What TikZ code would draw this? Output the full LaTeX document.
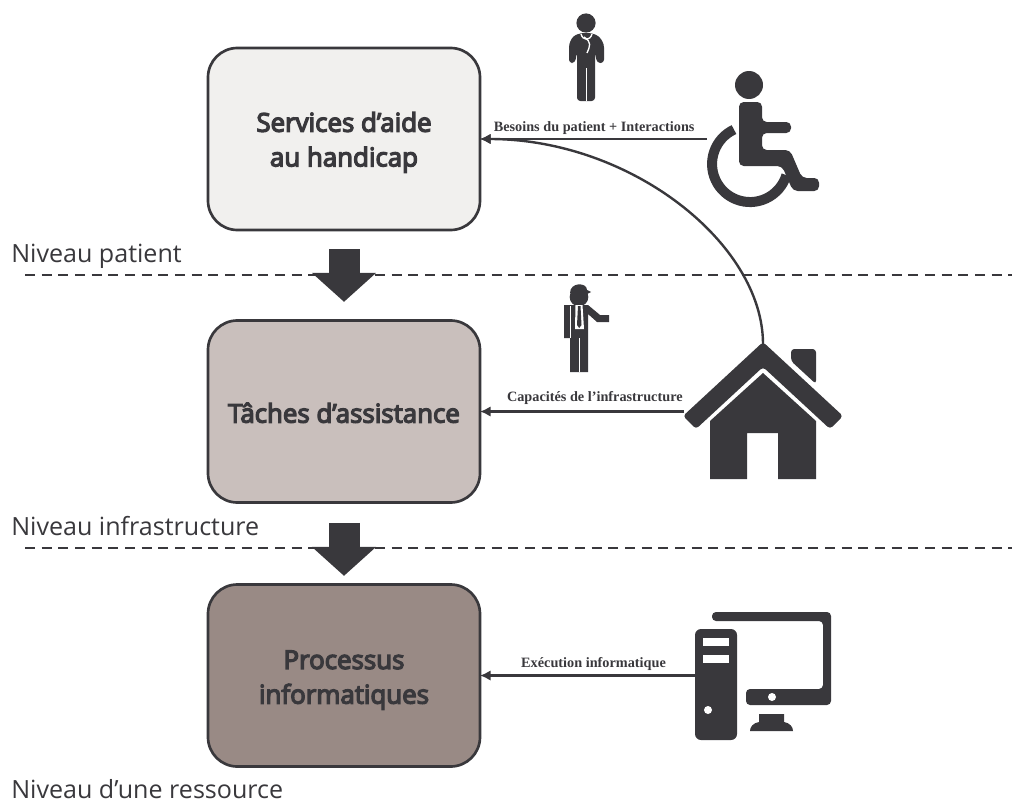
\documentclass[tikz,border=0pt]{standalone}
\usepackage{fontspec}
\setmainfont{Open Sans}
\newfontfamily\boxfont[FakeBold=5]{Open Sans}
\newfontfamily\captionfont{Liberation Serif}
\usetikzlibrary{arrows.meta}

\definecolor{icon}{HTML}{39383C}
\definecolor{patientcol}{HTML}{F1F0EE}
\definecolor{infracol}{HTML}{C9BFBC}
\definecolor{resourcecol}{HTML}{998A85}

\tikzset{
  levelbox/.style={draw=icon,line width=2pt,rounded corners=22pt,minimum width=204pt,minimum height=136.5pt},
  boxtext/.style={align=center,text=icon,font=\boxfont\fontsize{19.4}{26}\selectfont,inner sep=0pt},
  leveltext/.style={anchor=base west,inner sep=0pt,text=icon,font=\fontsize{18.8}{22}\selectfont},
  flowtext/.style={above,inner sep=3pt,text=icon,font=\captionfont\fontsize{10.7}{12}\selectfont\bfseries},
  flow/.style={draw=icon,line width=2pt,shorten >=-1pt,-{Latex[length=8pt,width=8pt]}},
  levelline/.style={draw=icon,line width=2.1pt,dash pattern=on 7.5pt off 5pt},
  levelarrow/.style={draw=icon,line width=23.25pt,-{Triangle[width=47pt,length=21.75pt]}}
}

\begin{document}
\begin{tikzpicture}[x=0.75pt,y=-0.75pt]
        \useasboundingbox (0,0) rectangle (1014,803);

        \node [levelbox,fill=patientcol] (services) at (344,139) {};
        \node [levelbox,fill=infracol] (taches) at (344,411.5) {};
        \node [levelbox,fill=resourcecol] (processus) at (344,675.5) {};

        \node [boxtext] (servicestext) at ([yshift=-2.5pt]services.center) {Services d’aide\\au handicap};
        \node [boxtext] (tachestext) at ([yshift=-1pt]taches.center) {Tâches d’assistance};
        \node [boxtext] (processustext) at ([yshift=-3.5pt]processus.center) {Processus\\informatiques};

        \node [leveltext] (patient) at (11,262) {Niveau patient};
        \node [leveltext] (infra) at (11,535) {Niveau infrastructure};
        \node [leveltext] (ressource) at (11,798.5) {Niveau d’une ressource};

        \coordinate (lineA) at (25,275);
        \coordinate (lineB) at (1012,275);
        \coordinate (lineC) at (25,548);
        \coordinate (lineD) at (1012,548);
        \draw [levelline] (lineA) -- (lineB);
        \draw [levelline] (lineC) -- (lineD);

        \draw [levelarrow,shorten <=13.5pt,shorten >=13pt] (services.south) -- (taches.north);
        \draw [levelarrow,shorten <=14.25pt,shorten >=5.5pt] (taches.south) -- (processus.north);

        % doctor
        \fill [icon] (586,23) circle [radius=7.2pt];
        \fill [icon,rounded corners=2.5pt] (569,63) -- (569,44) -- (573,36) -- (581,33) -- (591,33) -- (599,36) -- (604,44)
          -- (604,63) -- (597,63) -- (595,52) -- (595,101) -- (577,101) -- (577,52) -- (575,63) -- cycle;
        \draw [white,line width=.6pt] (586,68) -- (586,101);
        \draw [white,line width=1pt] (581,34) .. controls (583,41) and (590,41) .. (592,34);
        \draw [white,line width=1pt] (584,37) .. controls (592,42) and (590,46) .. (587,53);

        % worker
        \fill [icon] (579,297) circle [radius=7pt];
        \fill [icon] (570,293) .. controls (570,282) and (587,282) .. (587,290) -- (591,292) -- (587,294) -- cycle;
        \fill [icon] (564,305) -- (588,305) -- (600,315) -- (609,315) -- (609,322) -- (597,322) -- (588,314)
          -- (588,372) -- (570,372) -- (570,338) -- (564,338) -- cycle;
        \draw [white,line width=.6pt] (579,338) -- (579,372);
        \draw [white,line width=.5pt] (570,306) -- (570,338);
        \fill [white] (575.5,305) -- (582.5,305) -- (584,329) -- (575,329) -- cycle;
        \fill [icon] (578,306) -- (580.5,306) -- (581.5,325) -- (579.2,328) -- (577,325) -- cycle;

        % wheelchair
        \fill [icon] (749,85) circle [radius=10.5pt];
        \fill [icon,rounded corners=3.5pt] (739,102) -- (762,102) -- (762,122) -- (791,122) -- (791,133) -- (762,133) -- (762,150)
          -- (790,150) -- (802,178) -- (819,178) -- (819,191) -- (793,191) -- (782,166) -- (739,166) -- cycle;
        \draw [icon,line width=7.5pt] (734,129.6) arc [start angle=115,end angle=343,radius=28.5pt];

        % house
        \fill [icon,rounded corners=2.5pt] (763,342) -- (843,416) -- (830,429) -- (763,367) -- (696,429) -- (683,416) -- cycle;
        \fill [icon,rounded corners=2.5pt] (791,361) -- (791,349) -- (816,349) -- (816,384) -- cycle;
        \fill [icon] (763,373) -- (816,421) -- (816,479) -- (778,479) -- (778,433) -- (747,433) -- (747,479) -- (710,479) -- (710,421) -- cycle;

        % computer
        \fill [icon,rounded corners=3pt] (712,621) -- (712,612) -- (831,612) -- (831,705) -- (746,705) -- (746,689) -- (823,689) -- (823,621) -- cycle;
        \fill [white] (772,697) circle [radius=3pt];
        \fill [icon] (759,714) -- (784,714) -- (784,722) .. controls (790,723) and (793,727) .. (793,731) -- (750,731) .. controls (750,727) and (753,723) .. (759,722) -- cycle;
        \fill [icon,rounded corners=4.5pt] (695,629) rectangle (737,740);
        \fill [white] (703,638) rectangle (729,646);
        \fill [white] (703,655) rectangle (729,663);
        \fill [white] (708,710) circle [radius=3pt];

        \coordinate (wheelchair) at (707,139);
        \coordinate (house) at (684,411.5);
        \coordinate (roof) at (763,344);
        \coordinate (computer) at (695,675.5);

        \draw [flow] (wheelchair) -- node [flowtext,pos=.5,yshift=-.8pt] {Besoins du patient + Interactions} (services.east);
        \draw [flow] (house) -- node [flowtext,pos=.44,yshift=1.5pt] {Capacités de l’infrastructure} (taches.east);
        \draw [flow] (computer) -- node [flowtext,pos=.475] {Exécution informatique} (processus.east);
        \draw [flow,line width=1.8pt] (roof) .. controls +(0,-100) and +(150,0) .. (services.east);
      \end{tikzpicture}
\end{document}
